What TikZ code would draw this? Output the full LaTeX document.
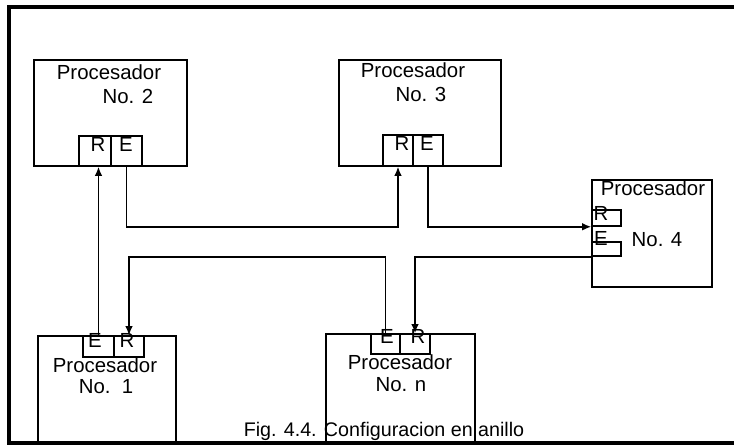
\documentclass[tikz,border=0pt]{standalone}
\usepackage{fontspec}
\setmainfont{Liberation Sans}
\usetikzlibrary{arrows.meta, fit}

\tikzset{
  procbox/.style={draw, line width=1.2pt, inner sep=0pt},
  portbox/.style={draw, line width=1.1pt, inner sep=0pt},
  lbl/.style={font=\fontsize{14.5}{16}\selectfont, inner sep=0pt},
  wire/.style={line width=1.1pt},
  link/.style={wire, -{Latex[length=6.5pt,width=5.5pt]}},
  frame/.style={line width=2.8pt}
}

\begin{document}
\begin{tikzpicture}[x=0.25mm, y=-0.25mm]
  \useasboundingbox (0,0) rectangle (734,447);
  \draw[frame] (734,7) -- (9,7) -- (9,443) -- (734,443);

  % processors
  \node[procbox, fit={(34,60) (187,166)}] (p2) {};
  \node[procbox, fit={(339,60) (501,166)}] (p3) {};
  \node[procbox, fit={(592,180) (712,287)}] (p4) {};
  \node[procbox, fit={(38,336) (176,442)}] (p1) {};
  \node[procbox, fit={(326,334) (475,442)}] (pn) {};

  % ports
  \node[portbox, fit={(79,136) (111,166)}] (r2) {};
  \node[portbox, fit={(111,136) (142,166)}] (e2) {};
  \node[portbox, fit={(383,135) (413,166)}] (r3) {};
  \node[portbox, fit={(413,135) (443,166)}] (e3) {};
  \node[portbox, fit={(592,210) (621,226)}] (r4) {};
  \node[portbox, fit={(592,242) (621,256)}] (e4) {};
  \node[portbox, fit={(83,336) (114,357)}] (e1) {};
  \node[portbox, fit={(114,336) (144,357)}] (r1) {};
  \node[portbox, fit={(371,334) (400,354)}] (en) {};
  \node[portbox, fit={(400,334) (430,354)}] (rn) {};

  % texts
  \node[lbl] (t2a) at (109,72) {Procesador};
  \node[lbl] (t2b) at (128,96) {No. 2};
  \node[lbl] (t3a) at (413,70) {Procesador};
  \node[lbl] (t3b) at (421,94) {No. 3};
  \node[lbl] (t4a) at (653,188) {Procesador};
  \node[lbl] (t4b) at (657,240) {No. 4};
  \node[lbl] (t1a) at (105,365) {Procesador};
  \node[lbl] (t1b) at (106,387) {No.\ \ 1};
  \node[lbl] (tna) at (400,362) {Procesador};
  \node[lbl] (tnb) at (401,385) {No. n};

  \node[lbl] (lr2) at (98,144) {R};
  \node[lbl] (le2) at (126,144) {E};
  \node[lbl] (lr3) at (402,143) {R};
  \node[lbl] (le3) at (427,143) {E};
  \node[lbl] (lr4) at (601,213) {R};
  \node[lbl] (le4) at (601,238) {E};
  \node[lbl] (le1) at (95,340) {E};
  \node[lbl] (lr1) at (127,340) {R};
  \node[lbl] (len) at (387,336) {E};
  \node[lbl] (lrn) at (418,336) {R};

  \node[lbl, font=\fontsize{14}{16}\selectfont, anchor=base] (cap) at (384,437)
    {Fig. 4.4. Configuracion en anillo};

  % ring
  \coordinate (busA) at (0,227);
  \coordinate (busB) at (0,257);
  \draw[link] (e1.north) -- (e1.north |- r2.south);
  \draw[link] (e2.south) -- (e2.south |- busA) -| (r3.south);
  \draw[link] (e3.south) |- (r4.south west);
  \draw[link] (e4.south west) -| (rn.north);
  \draw[link] (en.north) -- (en.north |- busB) -| (r1.north);
\end{tikzpicture}
\end{document}
